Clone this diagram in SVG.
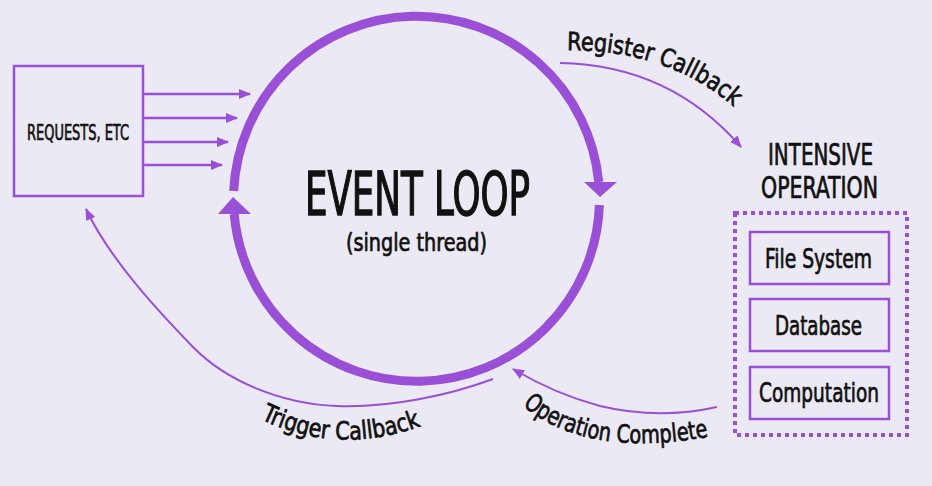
<svg xmlns="http://www.w3.org/2000/svg" width="932" height="486" viewBox="0 0 932 486">
<style>
.bg{fill:#ebe9f3}
.box{fill:none;stroke:#9a50d6;stroke-width:2.5}
.ring{fill:none;stroke:#9a50d6;stroke-width:9}
.head{fill:#9a50d6}
.con{fill:none;stroke:#9a50d6;stroke-width:2.5}
.thin{fill:none;stroke:#9a50d6;stroke-width:2}
.dots{fill:none;stroke:#9a50d6;stroke-width:4;stroke-dasharray:4 4}
text{font-family:"Liberation Sans Narrow","DejaVu Sans Condensed","Liberation Sans",sans-serif;fill:#111;stroke:#111;stroke-width:0.7;text-anchor:middle}
.big{stroke-width:1.4}
</style>
<defs>
<marker id="ah" viewBox="0 0 12 10" refX="11" refY="5" markerWidth="12" markerHeight="10" markerUnits="userSpaceOnUse" orient="auto">
<path d="M0,0 L12,5 L0,10 z" class="head"/>
</marker>
<path id="pReg" d="M566,50 Q670,50 735,108"/>
<path id="pTrig" d="M258,418 Q340,458 426,424"/>
<path id="pOp" d="M521,404 Q585,460 713,436"/>
</defs>
<rect class="bg" x="0" y="0" width="932" height="486"/>

<g id="requests">
<rect class="box" x="14" y="66" width="129" height="130"/>
<text x="78" y="140" font-size="22" textLength="102" lengthAdjust="spacingAndGlyphs">REQUESTS, ETC</text>
</g>

<g id="event-loop">
<path class="ring" d="M233.7,191 A183,183 0 0 1 598.7,182"/>
<polygon class="head" points="600,197 584,182 617,182"/>
<path class="ring" d="M599.4,205 A183,183 0 0 1 234.2,214"/>
<polygon class="head" points="233,197 218,214 251,214"/>
<text class="big" x="417.5" y="215" font-size="60" textLength="225" lengthAdjust="spacingAndGlyphs">EVENT LOOP</text>
<text x="416.5" y="251" font-size="25" textLength="141" lengthAdjust="spacingAndGlyphs">(single thread)</text>
</g>

<g id="intensive-operation">
<text x="820.5" y="165" font-size="30" textLength="105" lengthAdjust="spacingAndGlyphs">INTENSIVE</text>
<text x="819.5" y="198" font-size="30" textLength="117" lengthAdjust="spacingAndGlyphs">OPERATION</text>
<rect class="dots" x="735" y="213" width="172" height="222"/>
<g id="file-system">
<rect class="box" x="750" y="232" width="139" height="52"/>
<text x="818.5" y="268" font-size="27" textLength="107" lengthAdjust="spacingAndGlyphs">File System</text>
</g>
<g id="database">
<rect class="box" x="750" y="299" width="139" height="52"/>
<text x="818.5" y="335" font-size="27" textLength="87" lengthAdjust="spacingAndGlyphs">Database</text>
</g>
<g id="computation">
<rect class="box" x="750" y="367" width="139" height="52"/>
<text x="819" y="402" font-size="27" textLength="120" lengthAdjust="spacingAndGlyphs">Computation</text>
</g>
</g>

<g id="connectors">
<line class="con" x1="143" y1="94" x2="250" y2="94" marker-end="url(#ah)"/>
<line class="con" x1="143" y1="118" x2="237" y2="118" marker-end="url(#ah)"/>
<line class="con" x1="143" y1="142" x2="228" y2="142" marker-end="url(#ah)"/>
<line class="con" x1="143" y1="165" x2="222" y2="165" marker-end="url(#ah)"/>
<path class="thin" d="M560,63 Q670,65 741,147" marker-end="url(#ah)"/>
<path class="thin" d="M493,379 C450,395 390,408 337,406 C280,404 225,380 193,347 C160,313 110,260 86,209" marker-end="url(#ah)"/>
<path class="thin" d="M717,407 C690,413 650,418 600,406 C570,398 540,385 513,369" marker-end="url(#ah)"/>
<text font-size="25" style="text-anchor:start"><textPath href="#pReg" startOffset="1" textLength="180" lengthAdjust="spacingAndGlyphs">Register Callback</textPath></text>
<text font-size="25" style="text-anchor:start"><textPath href="#pTrig" startOffset="3" textLength="165" lengthAdjust="spacingAndGlyphs">Trigger Callback</textPath></text>
<text font-size="25" style="text-anchor:start"><textPath href="#pOp" startOffset="2" textLength="195" lengthAdjust="spacingAndGlyphs">Operation Complete</textPath></text>
</g>
</svg>
